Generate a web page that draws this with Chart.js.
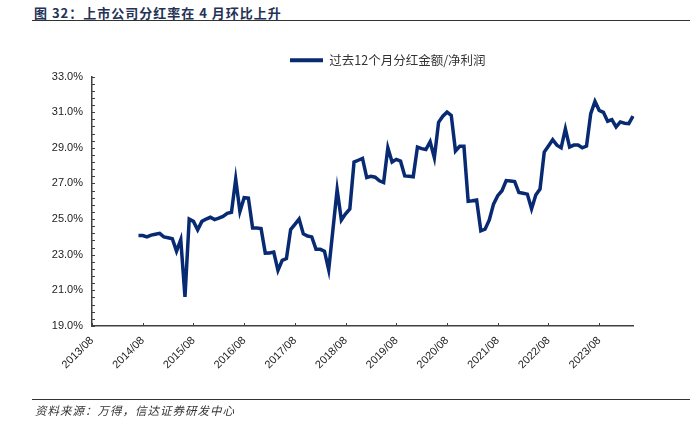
<!DOCTYPE html>
<html lang="zh">
<head>
    <meta charset="UTF-8">
    <title>上市公司分红率</title>
    <script src="https://cdn.jsdelivr.net/npm/chart.js"></script>
    <style>
        body { margin: 0; background: #fff; width: 700px; height: 431px; position: relative; overflow: hidden; }
        .title { position: absolute; left: 34px; top: 3px; font: bold 13px "Noto Sans CJK SC", sans-serif; color: #233255; letter-spacing: 1px; }
        .rule { position: absolute; left: 32px; width: 658px; height: 0; border-top: 1.5px solid #333; }
        .source { position: absolute; left: 35px; top: 402px; font: italic 11.5px "Noto Sans CJK SC", sans-serif; color: #333; letter-spacing: 1px; }
        #chart { position: absolute; left: 0; top: 0; }
    </style>
</head>
<body>
    <div class="title">图 32：上市公司分红率在 4 月环比上升</div>
    <div class="rule" style="top: 20px;"></div>
    <canvas id="chart" width="700" height="431"></canvas>
    <div class="rule" style="top: 399px;"></div>
    <div class="source">资料来源：万得，信达证券研发中心</div>

    <script>
        // months from 2013/08 to 2024/04
        const startYear = 2013, startMonth = 8, monthCount = 129;
        const months = [];
        for (let i = 0; i < monthCount; i++) {
            const y = startYear + Math.floor((startMonth - 1 + i) / 12);
            const m = (startMonth - 1 + i) % 12 + 1;
            months.push(y + '/' + String(m).padStart(2, '0'));
        }

        const seriesName = '过去12个月分红金额/净利润';
        const seriesStart = '2014/07';
        // payout ratio (%), monthly from 2014/07
        const payoutRatio = [
            24.08, 24.08, 24.0, 24.1, 24.15, 24.2, 24.0, 23.95, 23.9, 23.2, 23.84, 20.63,
            25.0, 24.87, 24.4, 24.87, 25.0, 25.1, 24.97, 25.05, 25.15, 25.32, 25.38, 27.24,
            25.42, 26.2, 26.18, 24.5, 24.5, 24.47, 23.09, 23.1, 23.15, 22.12, 22.68, 22.78,
            24.41, 24.7, 25.0, 24.17, 24.05, 24.0, 23.3, 23.3, 23.2, 22.15, 24.4, 26.65,
            24.95, 25.3, 25.57, 28.2, 28.3, 28.4, 27.33, 27.4, 27.35, 27.15, 27.05, 29.0,
            28.2, 28.35, 28.25, 27.42, 27.4, 27.37, 29.04, 28.95, 28.9, 29.34, 28.44, 30.43,
            30.77, 31.0, 30.82, 28.82, 29.08, 29.08, 26.0, 26.03, 26.07, 24.34, 24.43, 24.95,
            25.84, 26.31, 26.59, 27.16, 27.14, 27.1, 26.49, 26.45, 26.4, 25.57, 26.35, 26.68,
            28.76, 29.1, 29.45, 29.15, 29.0, 30.06, 29.04, 29.15, 29.15, 29.0, 29.1, 30.92,
            31.6, 31.1, 30.99, 30.49, 30.58, 30.17, 30.45, 30.38, 30.36, 30.77
        ];
        const yMin = 19, yMax = 33, yStep = 2, yMinorStep = 0.4;

        const offset = months.indexOf(seriesStart);
        const lineData = new Array(offset).fill(null).concat(payoutRatio);

        const axisColor = '#404040';

        // inward tick marks on both axes
        const innerTicks = {
            id: 'innerTicks',
            afterDraw(chart) {
                const ctx = chart.ctx, x = chart.scales.x, y = chart.scales.y;
                const a = chart.chartArea;
                ctx.save();
                ctx.strokeStyle = axisColor;
                ctx.lineWidth = 1;
                ctx.beginPath();
                months.forEach((lab, i) => {
                    if (lab.endsWith('/08')) {
                        const px = Math.round(x.getPixelForValue(i)) + 0.5;
                        ctx.moveTo(px, a.bottom);
                        ctx.lineTo(px, a.bottom - 3);
                    }
                });
                for (let v = yMin; v <= yMax + 1e-6; v += yMinorStep) {
                    const py = Math.round(y.getPixelForValue(v)) + 0.5;
                    ctx.moveTo(a.left, py);
                    ctx.lineTo(a.left + 3, py);
                }
                ctx.stroke();
                ctx.restore();
            }
        };

        // legend sits right of centre in the original
        const legendShift = {
            id: 'legendShift',
            afterLayout(chart) {
                chart.legend.left = 280;
                chart.legend.right = 700;
            }
        };

        new Chart(document.getElementById('chart'), {
            type: 'line',
            data: {
                labels: months,
                datasets: [{
                    label: seriesName,
                    data: lineData,
                    borderColor: '#082a72',
                    backgroundColor: '#082a72',
                    borderWidth: 3.5,
                    pointRadius: 0,
                    tension: 0,
                    spanGaps: false
                }]
            },
            options: {
                responsive: false,
                animation: false,
                layout: { padding: { top: 44, right: 67, left: 0, bottom: 0 } },
                plugins: {
                    legend: {
                        display: true,
                        position: 'top',
                        align: 'start',
                        labels: {
                            boxWidth: 33,
                            boxHeight: 4,
                            color: '#333',
                            font: { family: '"Noto Sans CJK SC", sans-serif', size: 12.5 },
                            generateLabels(chart) {
                                const items = Chart.defaults.plugins.legend.labels.generateLabels(chart);
                                items.forEach(it => { it.lineWidth = 0; });
                                return items;
                            }
                        }
                    },
                    tooltip: { enabled: false }
                },
                scales: {
                    x: {
                        type: 'category',
                        offset: false,
                        grid: { display: false, drawTicks: false },
                        border: { display: true, color: axisColor, width: 1.5 },
                        afterFit(scale) { scale.height = 105; },
                        ticks: {
                            autoSkip: false,
                            minRotation: 45,
                            maxRotation: 45,
                            padding: 8,
                            color: '#222',
                            font: { family: '"Liberation Sans", Arial, sans-serif', size: 11 },
                            callback(value) {
                                const lab = months[value];
                                return lab.endsWith('/08') ? lab : '';
                            }
                        }
                    },
                    y: {
                        min: yMin,
                        max: yMax,
                        grid: { display: false, drawTicks: false },
                        border: { display: true, color: axisColor, width: 1.5 },
                        afterFit(scale) { scale.width = 92; },
                        ticks: {
                            stepSize: yStep,
                            padding: 9,
                            color: '#222',
                            font: { family: '"Liberation Sans", Arial, sans-serif', size: 11 },
                            callback: v => v.toFixed(1) + '%'
                        }
                    }
                }
            },
            plugins: [innerTicks, legendShift]
        });
    </script>
</body>
</html>
